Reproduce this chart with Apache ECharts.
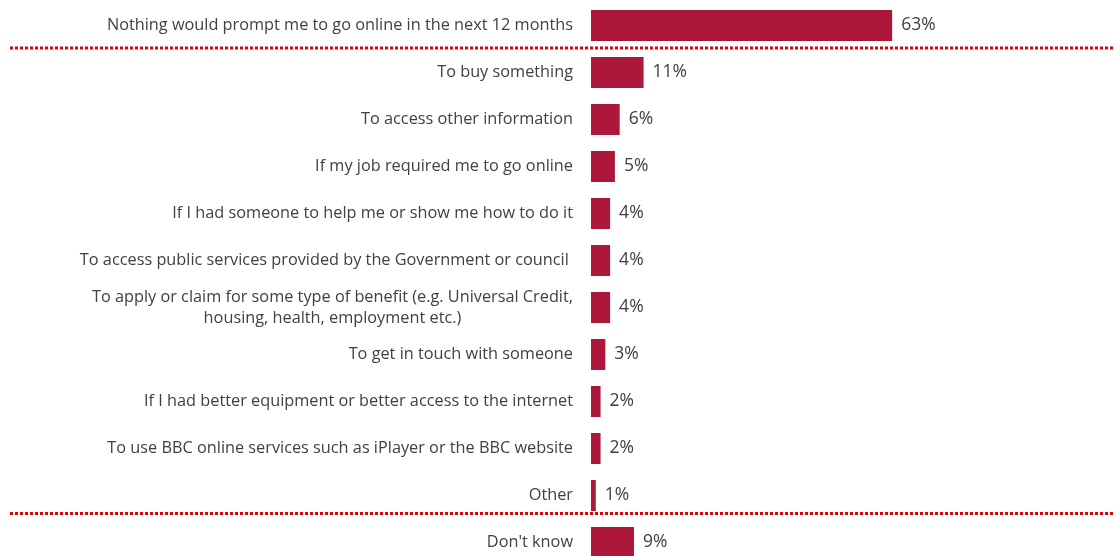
<!DOCTYPE html>
<html>
<head>
<meta charset="utf-8">
<script src="https://cdn.jsdelivr.net/npm/echarts@6/dist/echarts.min.js"></script>
<style>
  html, body { margin: 0; padding: 0; background: #fff; }
  #chart { width: 1114px; height: 556px; }
</style>
</head>
<body>
<div id="chart"></div>
<script>
// categories, top to bottom
var categories = [
    'Nothing would prompt me to go online in the next 12 months',
    'To buy something',
    'To access other information',
    'If my job required me to go online',
    'If I had someone to help me or show me how to do it',
    'To access public services provided by the Government or council ',
    'To apply or claim for some type of benefit (e.g. Universal Credit,\nhousing, health, employment etc.)',
    'To get in touch with someone',
    'If I had better equipment or better access to the internet',
    'To use BBC online services such as iPlayer or the BBC website',
    'Other',
    "Don't know"
];
var values = [63, 11, 6, 5, 4, 4, 4, 3, 2, 2, 1, 9]; // percent
var separators = [0, 10]; // dotted line drawn below these rows

var textColor = '#404040';
var barColor = '#ad173a';
var fontFamily = '"Open Sans", sans-serif';

var myChart = echarts.init(document.getElementById('chart'));
var option = {
    animation: false,
    grid: { left: 591, top: 2, width: 478, height: 564, outerBoundsMode: 'none' },
    xAxis: {
        type: 'value',
        min: 0,
        max: 100,
        show: false
    },
    yAxis: {
        type: 'category',
        inverse: true,
        data: categories,
        axisLine: { show: false },
        axisTick: { show: false },
        axisLabel: {
            margin: 18,
            formatter: function (v) { return '{c|' + v.split('\n').join('}\n{c|') + '}'; },
            rich: {
                c: {
                    align: 'center',
                    color: textColor,
                    fontFamily: fontFamily,
                    fontSize: 16.3,
                    lineHeight: 21
                }
            }
        }
    },
    series: [{
        type: 'bar',
        data: values,
        barWidth: 31,
        itemStyle: { color: barColor },
        label: {
            show: true,
            position: 'right',
            distance: 9,
            formatter: '{c}%',
            color: textColor,
            fontFamily: fontFamily,
            fontSize: 17.5
        }
    }]
};
myChart.setOption(option);

// dotted separator lines, placed from the category axis
var lines = separators.map(function (idx) {
    var a = myChart.convertToPixel({ yAxisIndex: 0 }, idx);
    var b = myChart.convertToPixel({ yAxisIndex: 0 }, idx + 1);
    var y = idx === 0 ? (a + b) / 2 - 1 : a + 18;
    return {
        type: 'line',
        shape: { x1: 10, y1: y, x2: 1114, y2: y },
        style: { stroke: '#e00000', lineWidth: 3, lineDash: [3, 2] },
        z: 10
    };
});
myChart.setOption({ graphic: lines });
</script>
</body>
</html>
